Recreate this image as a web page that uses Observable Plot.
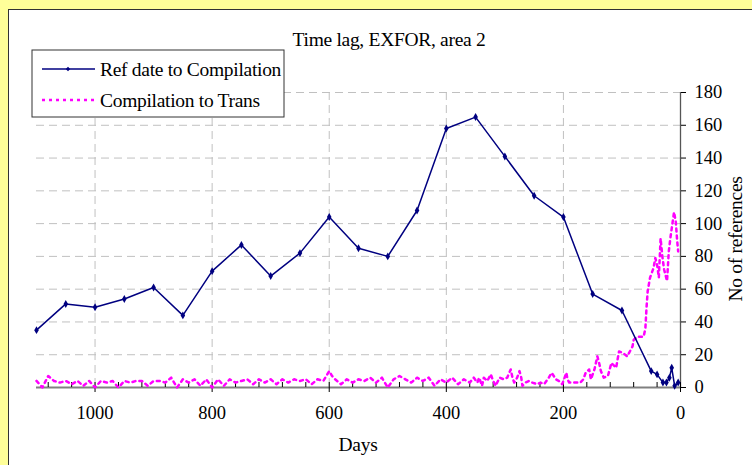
<!DOCTYPE html>
<html><head><meta charset="utf-8">
<script src="https://cdn.jsdelivr.net/npm/d3@7"></script>
<script src="https://cdn.jsdelivr.net/npm/@observablehq/plot@0.6"></script>
<style>
body{margin:0;background:#FFFF99;width:752px;height:465px;overflow:hidden;font-family:"Liberation Serif","Times New Roman",serif;}
#wrap{position:relative;width:752px;height:465px;}
#frame{position:absolute;left:8px;top:9px;width:760px;height:470px;background:#fff;border:1.5px solid #333;box-sizing:border-box}
#chart{position:absolute;left:0;top:0}
#overlay{position:absolute;left:0;top:0}
</style></head><body>
<div id="wrap">
<div id="frame"></div>
<div id="chart"></div>
<svg id="overlay" width="752" height="465" style="font-family:'Liberation Serif','Times New Roman',serif;font-size:19.5px;letter-spacing:-0.3px">
  <text x="389" y="46" text-anchor="middle">Time lag, EXFOR, area 2</text>
  <rect x="32" y="50" width="252" height="67" fill="#fff" stroke="#333" stroke-width="1"/>
  <line x1="42" x2="95" y1="69" y2="69" stroke="#000080" stroke-width="1.5"/>
  <path d="M68,66.8L70.2,69L68,71.2L65.8,69Z" fill="#000080"/>
  <line x1="42" x2="94" y1="100" y2="100" stroke="#FF00FF" stroke-width="2.5" stroke-dasharray="3,4"/>
  <text x="100" y="76">Ref date to Compilation</text>
  <text x="100" y="107">Compilation to Trans</text>
  <text x="358" y="451" text-anchor="middle">Days</text>
  <text transform="translate(742,239) rotate(-90)" text-anchor="middle">No of references</text>
</svg>
</div>
<script>
// Ref date to Compilation
const refDays = [1100,1050,1000,950,900,850,800,750,700,650,600,550,500,450,400,350,300,250,200,150,100,50,40,30,24,19,15,10,4];
const refVals = [35,51,49,54,61,44,71,87,68,82,104,85,80,108,158,165,141,117,104,57,47,10,8,3,3,6,12,1,3];

// Compilation to Trans
const transDays = [1100,1090,1080,1070,1060,1050,1040,1030,1020,1010,1000,990,980,970,960,950,940,930,920,910,900,890,880,870,860,850,840,830,820,810,800,790,780,770,760,750,740,730,720,710,700,690,680,670,660,650,640,630,620,610,600,595,590,580,570,560,550,540,530,520,510,500,490,480,470,460,450,440,430,420,410,400,390,380,370,360,
 353,347,344,339,336,330,324,321,316,309,302,296,290,287,284,279,275,272,270,265,259,253,245,239,233,229,225,220,213,208,202,195,193,190,185,179,171,166,162,156,153,147,142,139,136,131,124,118,110,105,98,91,82,80,74,63,60,58,56,52,46,43,40,37,34,31,28,23,20,17,11,8,6,4];
const transVals = [4,0,7,4,3,4,2,4,1,4,0,4,3,4,0,4,3,4,4,1,4,4,3,6,0,5,3,5,1,5,0,5,1,5,3,4,5,2,5,3,5,2,5,3,5,4,5,2,5,4,10,7,5,2,5,3,5,4,6,3,6,0,5,7,5,3,6,4,6,1,5,3,6,2,5,3,
 6,3,6,1,6,4,8,5,1,6,5,6,11,6,3,6,10,6,1,3,4,3,2,3,2,4,6,9,5,4,2,9,5,3,3,3,3,5,9,11,5,11,19,15,10,6,7,15,12,22,21,19,25,29,31,31,36,49,59,67,73,79,75,67,91,80,72,65,83,92,107,101,91,83];

const xTicksMajor = [1000,800,600,400,200,0];
const xTicksMinor = d3.range(0, 1081, 40);
const xGrid = [1000,800,600,400,200];
const yTicks = [0,20,40,60,80,100,120,140,160,180];
const yGrid = [20,40,60,80,100,120,140,160,180];

const refData = refDays.map((d,i)=>({day:d, n:refVals[i]}));
const transData = transDays.map((d,i)=>({day:d, n:transVals[i]}));

const chart = Plot.plot({
  width: 752, height: 465,
  marginLeft: 36, marginRight: 72, marginTop: 92, marginBottom: 78,
  style: {fontFamily: "'Liberation Serif','Times New Roman',serif", fontSize: "18.5px", background: "transparent", overflow: "visible"},
  x: {domain: [1100, 0], range: [36, 680]},
  y: {domain: [0, 180]},
  marks: [
    Plot.gridY(yGrid, {stroke: "#c0c0c0", strokeOpacity: 1, strokeDasharray: "8,5"}),
    Plot.gridX(xGrid, {stroke: "#c0c0c0", strokeOpacity: 1, strokeDasharray: "8,5"}),
    Plot.ruleY([0], {stroke: "#808080", strokeWidth: 2}),
    Plot.ruleX([0], {stroke: "#555", strokeWidth: 1.3}),
    Plot.tickX(xTicksMinor, {x: d => d, insetTop: 290, stroke: "#000", strokeWidth: 1}),
    Plot.axisX({ticks: xTicksMajor, tickSize: 5, tickPadding: 13, tickFormat: d => String(d), label: null, stroke: "#000"}),
    Plot.axisY({anchor: "right", ticks: yTicks, tickSize: 5, tickPadding: 9, tickFormat: d => String(d), label: null}),
    Plot.line(transData, {x: "day", y: "n", stroke: "#FF00FF", strokeWidth: 2.5, strokeDasharray: "3,4"}),
    Plot.line(refData, {x: "day", y: "n", stroke: "#000080", strokeWidth: 1.5}),
    Plot.dot(refData, {x: "day", y: "n", symbol: "diamond", r: 2.4, fill: "#000080"})
  ]
});
document.getElementById("chart").appendChild(chart);
</script>
</body></html>
